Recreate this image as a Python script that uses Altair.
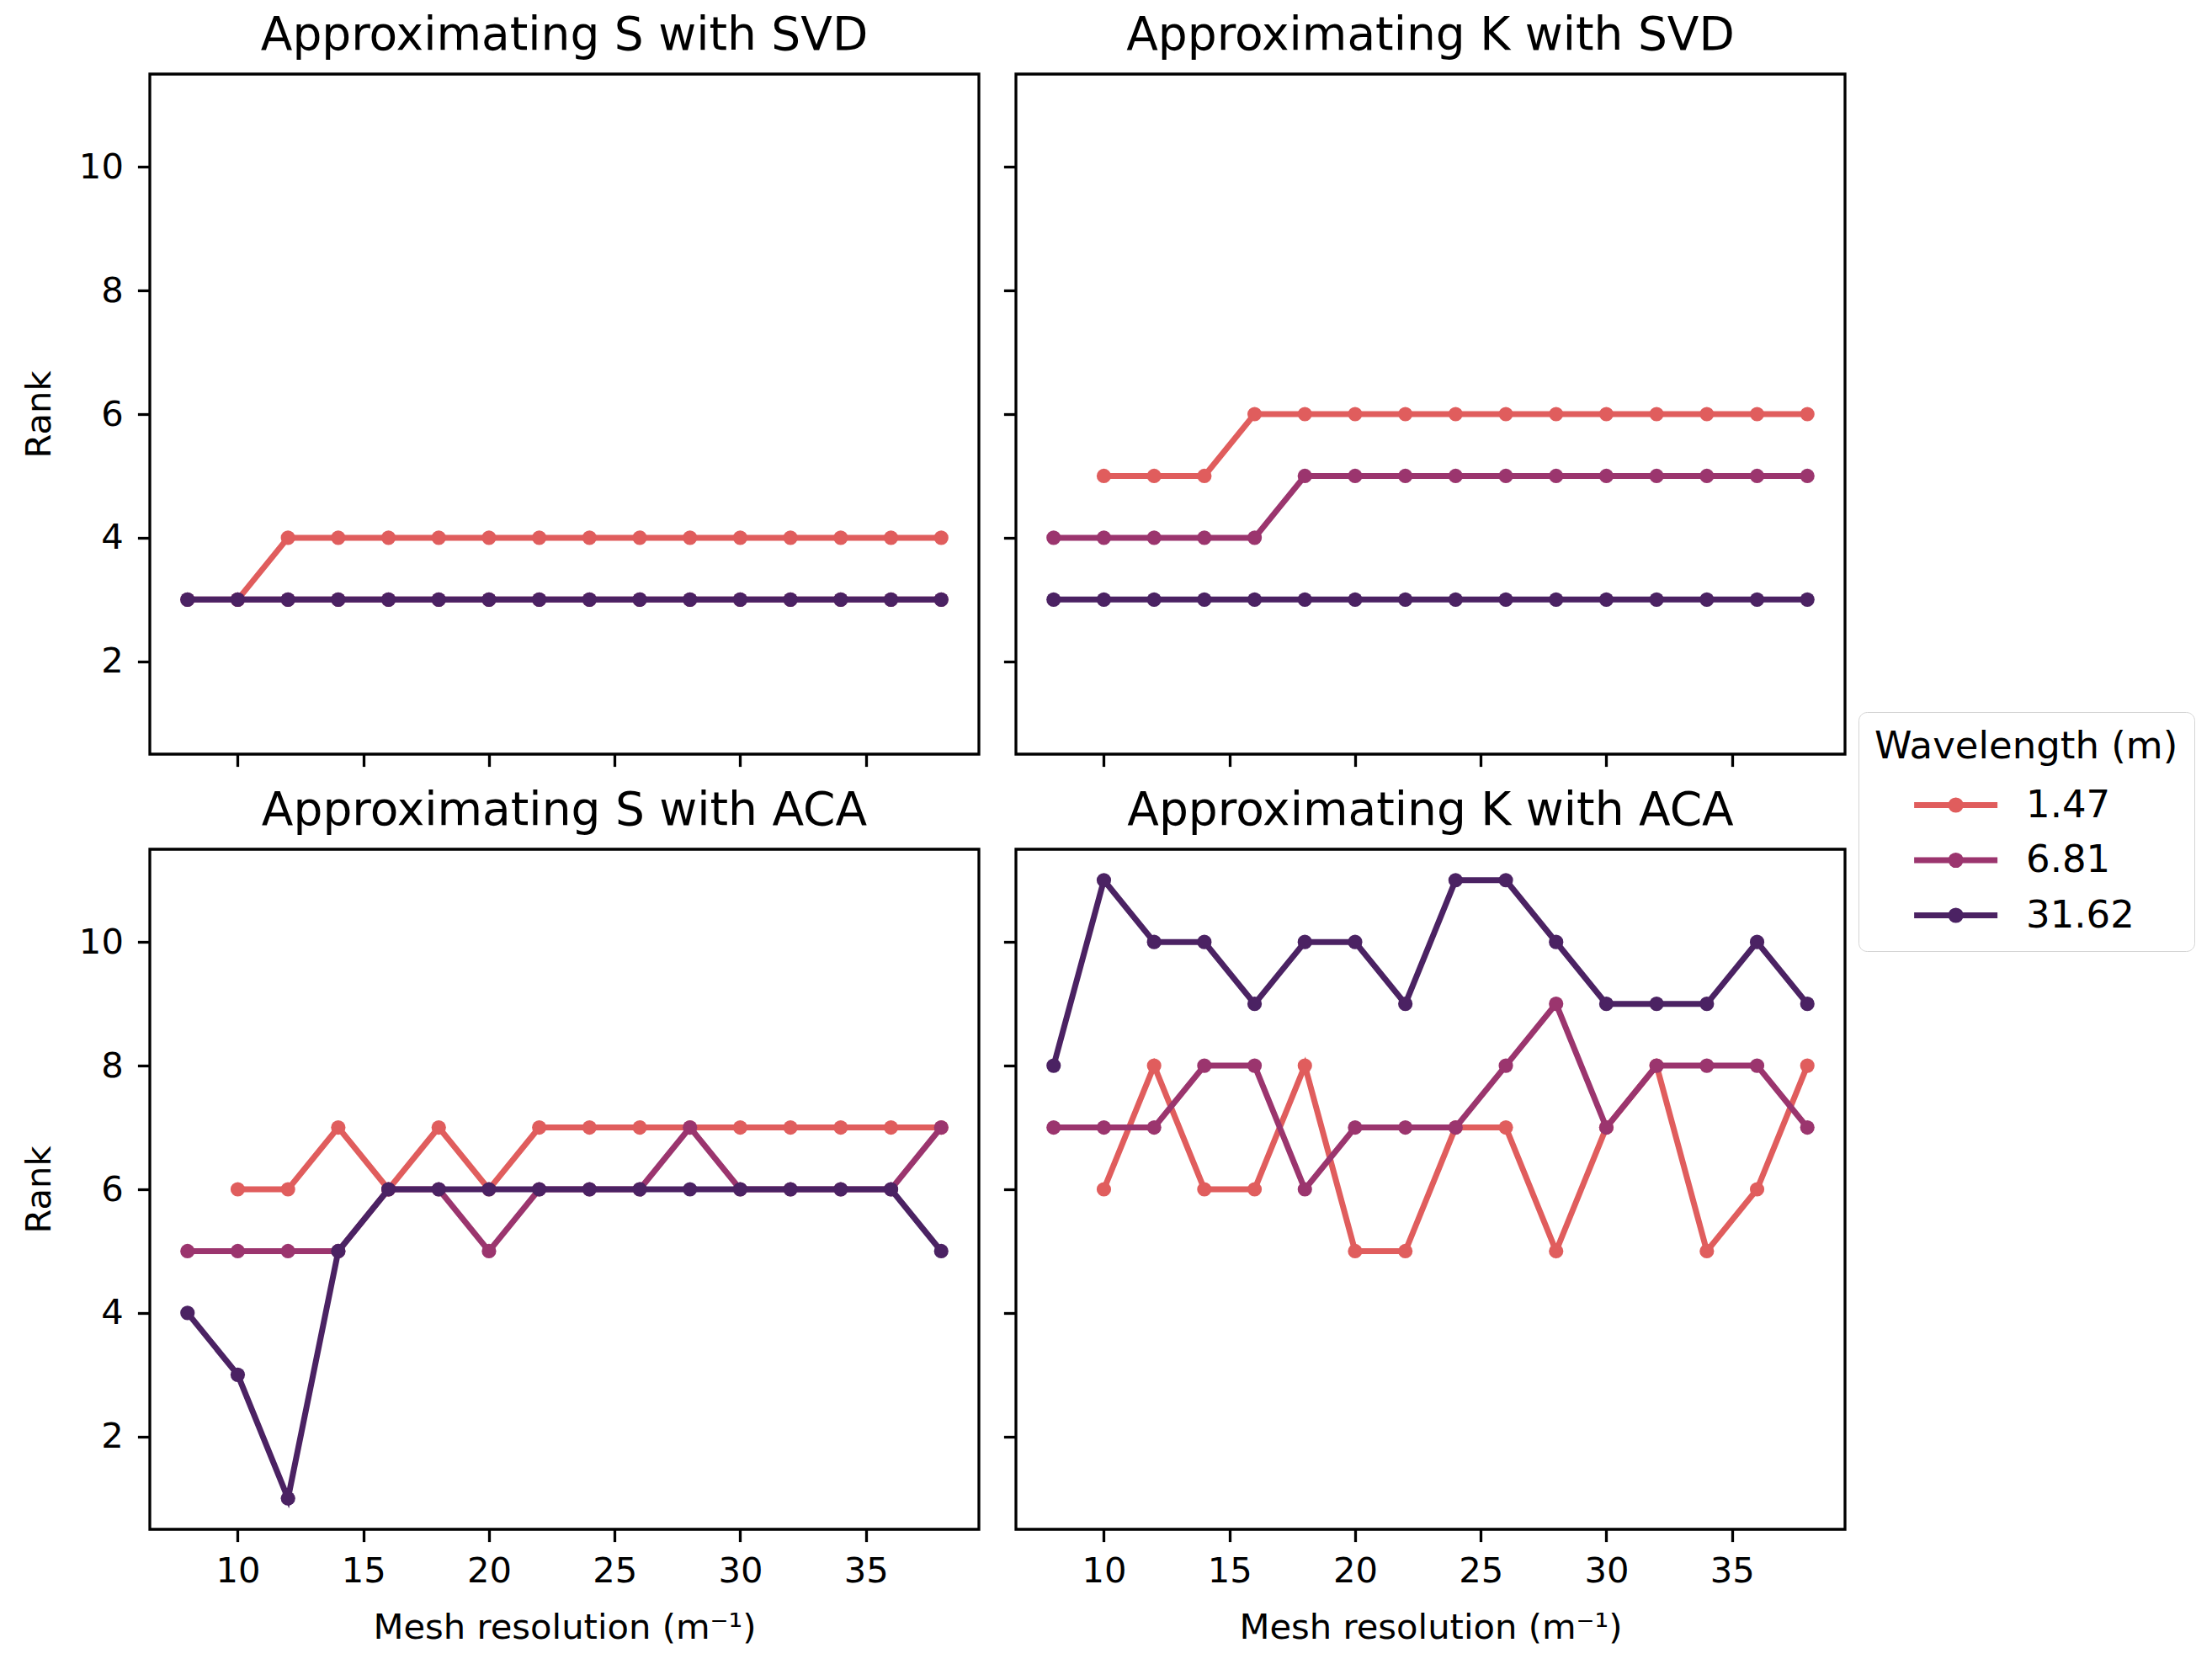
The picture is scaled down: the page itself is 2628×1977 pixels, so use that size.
import altair as alt
import pandas as pd

mesh = [8, 10, 12, 14, 16, 18, 20, 22, 24, 26, 28, 30, 32, 34, 36, 38]
wavelengths = ["1.47", "6.81", "31.62"]
colors = ["#e05d5d", "#9b356e", "#4b2263"]
panels = ["Approximating S with SVD", "Approximating K with SVD",
          "Approximating S with ACA", "Approximating K with ACA"]

s_svd_147 = [None, 3, 4, 4, 4, 4, 4, 4, 4, 4, 4, 4, 4, 4, 4, 4]
s_svd_681 = [3, 3, 3, 3, 3, 3, 3, 3, 3, 3, 3, 3, 3, 3, 3, 3]
s_svd_3162 = [3, 3, 3, 3, 3, 3, 3, 3, 3, 3, 3, 3, 3, 3, 3, 3]

k_svd_147 = [None, 5, 5, 5, 6, 6, 6, 6, 6, 6, 6, 6, 6, 6, 6, 6]
k_svd_681 = [4, 4, 4, 4, 4, 5, 5, 5, 5, 5, 5, 5, 5, 5, 5, 5]
k_svd_3162 = [3, 3, 3, 3, 3, 3, 3, 3, 3, 3, 3, 3, 3, 3, 3, 3]

s_aca_147 = [None, 6, 6, 7, 6, 7, 6, 7, 7, 7, 7, 7, 7, 7, 7, 7]
s_aca_681 = [5, 5, 5, 5, 6, 6, 5, 6, 6, 6, 7, 6, 6, 6, 6, 7]
s_aca_3162 = [4, 3, 1, 5, 6, 6, 6, 6, 6, 6, 6, 6, 6, 6, 6, 5]

k_aca_147 = [None, 6, 8, 6, 6, 8, 5, 5, 7, 7, 5, 7, 8, 5, 6, 8]
k_aca_681 = [7, 7, 7, 8, 8, 6, 7, 7, 7, 8, 9, 7, 8, 8, 8, 7]
k_aca_3162 = [8, 11, 10, 10, 9, 10, 10, 9, 11, 11, 10, 9, 9, 9, 10, 9]

series = {
    panels[0]: [s_svd_147, s_svd_681, s_svd_3162],
    panels[1]: [k_svd_147, k_svd_681, k_svd_3162],
    panels[2]: [s_aca_147, s_aca_681, s_aca_3162],
    panels[3]: [k_aca_147, k_aca_681, k_aca_3162],
}

rows = []
for p in panels:
    for w, vals in zip(wavelengths, series[p]):
        for xv, yv in zip(mesh, vals):
            if yv is not None:
                rows.append({"panel": p, "wavelength": w, "mesh": xv, "rank": yv})
df = pd.DataFrame(rows)

FS = 41.7
LFS = 45
TICK = 14.6
PLOT_W = 985
PLOT_H = 808

# legend glyph: line with a filled dot (dot built from concentric stroked circles),
# shifted left inside the symbol box so that it sits before the labels
legend_path = ("M-2.92,0L0.08,0"
               "M-1.25,0A0.17,0.17,0,1,1,-1.59,0A0.17,0.17,0,1,1,-1.25,0"
               "M-1.34,0A0.08,0.08,0,1,1,-1.50,0A0.08,0.08,0,1,1,-1.34,0")

color_enc = alt.Color(
    "wavelength:N",
    scale=alt.Scale(domain=wavelengths, range=colors),
    sort=wavelengths,
    legend=alt.Legend(
        title="Wavelength (m)",
        orient="none",
        legendX=2030,
        legendY=758,
        symbolType=legend_path,
        symbolSize=4356,
        symbolStrokeWidth=7,
        symbolOffset=107,
        strokeColor="#d4d4d4",
        fillColor="white",
        cornerRadius=10,
        padding=19,
        titleFontSize=LFS,
        titleFontWeight="normal",
        titleColor="black",
        titleLimit=1000,
        labelLimit=1000,
        labelFontSize=LFS,
        labelColor="black",
        rowPadding=5.5,
        labelOffset=0,
        titlePadding=10,
    ),
)


def panel(name, xlabels, ylabels):
    xaxis = alt.Axis(
        values=[10, 15, 20, 25, 30, 35],
        labels=xlabels,
        labelPadding=15,
        title="Mesh resolution (m⁻¹)" if xlabels else None,
        titlePadding=25,
    )
    yaxis = alt.Axis(
        values=[2, 4, 6, 8, 10],
        labels=ylabels,
        labelPadding=17,
        title="Rank" if ylabels else None,
        titlePadding=25,
    )
    x = alt.X("mesh:Q", scale=alt.Scale(domain=[6.5, 39.5], nice=False, zero=False), axis=xaxis)
    y = alt.Y("rank:Q", scale=alt.Scale(domain=[0.5, 11.5], nice=False, zero=False), axis=yaxis)
    base = alt.Chart(df).transform_filter(alt.datum.panel == name)
    layers = []
    for w in wavelengths:
        sub = base.transform_filter(alt.datum.wavelength == w)
        layers.append(sub.mark_line(strokeWidth=7).encode(x=x, y=y, color=color_enc))
        layers.append(sub.mark_point(filled=True, size=295, opacity=1).encode(x=x, y=y, color=color_enc))
    return alt.layer(*layers).properties(
        width=PLOT_W, height=PLOT_H,
        title=alt.TitleParams(name, fontSize=55, fontWeight="normal", color="black",
                              anchor="middle", offset=17),
    )


top = alt.hconcat(panel(panels[0], False, True), panel(panels[1], False, False), spacing=24)
bottom = alt.hconcat(panel(panels[2], True, True), panel(panels[3], True, False), spacing=24)

chart = alt.vconcat(top, bottom, spacing=20).properties(
    padding={"left": 16, "top": 5, "right": 5, "bottom": 5}
).configure(
    font="DejaVu Sans",
).configure_view(
    stroke="black", strokeWidth=3.3,
).configure_axis(
    grid=False,
    domain=False,
    ticks=True,
    tickColor="black",
    tickWidth=3.3,
    tickSize=TICK,
    labelFontSize=FS,
    labelColor="black",
    titleFontSize=FS,
    titleFontWeight="normal",
    titleColor="black",
).configure_title(
    font="DejaVu Sans",
)

chart.save("out.html", embed_options={"renderer": "svg", "actions": False})
